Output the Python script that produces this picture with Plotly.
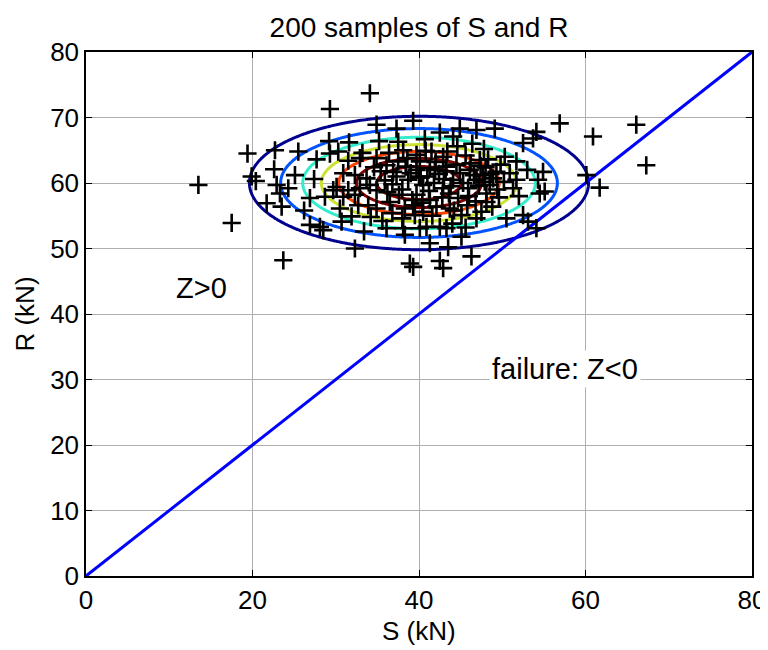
import numpy as np
import plotly.graph_objects as go

# ---- data ----
title_text = "200 samples of S and R"
x_label = "S (kN)"
y_label = "R (kN)"

S_mean, S_std = 40.0, 10.0
R_mean, R_std = 60.0, 5.0
contour_levels = [0.0004, 0.0008, 0.0012, 0.0016, 0.0020, 0.0024, 0.0028]

limit_S = [0, 80]
limit_R = [0, 80]

sample_S = [
    13.5, 17.5, 19.4, 19.9, 20.4, 22.7, 22.6, 22.9, 23.3, 21.7, 23.5, 23.7, 34.1, 29.3, 34.9, 37.3, 39.3, 29.2,
    25.5, 27.7, 29.3, 30.3, 31.5, 32.9, 34.9, 36.1, 37.5, 38.1, 37.5, 25.1, 30.9, 32.3, 36.9, 42.5, 44.9, 44.1,
    46.9, 49.1, 54.1, 53.7, 52.5, 40.7, 41.5, 39.7, 42.9, 40.1, 47.3, 50.3, 51.7, 39.7, 41.3, 43.3, 44.9, 46.1,
    47.7, 49.3, 50.9, 54.9, 56.9, 60.9, 66.1, 67.3, 60.1, 61.7, 55.1, 24.3, 26.9, 28.7, 29.7, 31.5, 30.9, 32.3,
    32.9, 34.1, 34.9, 33.7, 30.5, 31.9, 32.7, 33.9, 34.9, 36.5, 38.3, 26.9, 28.1, 28.5, 30.7, 36.1, 38.1, 38.3,
    32.3, 38.9, 39.3, 38.7, 37.3, 30.1, 51.7, 51.3, 54.3, 54.5, 50.5, 52.5, 53.1, 54.1, 46.9, 47.5, 45.1, 41.3,
    40.1, 40.9, 42.5, 43.3, 46.3, 42.5, 42.9, 39.5, 40.5, 42.1, 43.7, 44.7, 45.1, 48.1, 48.1, 48.5, 48.9, 45.9,
    42.9, 40.5, 39.7, 41.3, 39.3, 44.1, 46.9, 47.9,
    38.0, 39.0, 40.2, 41.0, 41.8, 42.4, 43.0, 43.8, 44.5, 45.3, 46.0, 46.6, 47.2, 48.0, 48.6, 49.4, 49.8, 36.8,
    35.9, 35.4, 36.4, 38.6, 40.8, 42.0, 43.4, 45.6, 46.4, 47.8, 39.2, 40.4, 41.6, 42.8, 43.6, 44.2, 45.8, 46.8,
    38.0, 36.8, 35.6, 34.2, 33.4, 44.0, 45.6, 48.8, 49.6, 50.2, 52.0, 53.0, 37.6, 41.2, 43.2, 40.0, 41.9, 47.4,
    48.3, 46.2, 38.4, 36.2, 34.6, 33.2, 31.6, 27.4, 26.2, 35.2, 44.6, 43.5,
]
sample_R = [
    59.7, 53.9, 64.5, 61.0, 60.3, 65.0, 62.1, 59.7, 58.4, 56.9, 56.4, 48.2, 73.7, 71.3, 68.9, 68.3, 69.5, 66.4,
    64.8, 63.6, 64.5, 64.8, 63.4, 63.8, 63.8, 62.7, 66.3, 65.0, 63.3, 61.2, 61.5, 61.2, 61.7, 67.7, 68.3, 67.1,
    68.1, 68.3, 67.8, 66.8, 66.1, 66.7, 64.8, 64.3, 64.0, 63.3, 63.5, 64.0, 63.3, 62.0, 62.3, 62.5, 61.5, 62.0,
    61.2, 61.7, 61.5, 61.7, 69.1, 67.1, 68.9, 62.7, 61.2, 59.3, 58.7, 59.2, 57.7, 57.9, 58.9, 58.9, 57.9, 58.2,
    59.2, 59.7, 58.9, 60.7, 56.1, 54.9, 56.6, 56.6, 56.1, 57.1, 56.1, 53.6, 53.3, 52.8, 54.1, 53.1, 53.1, 52.1,
    50.0, 47.7, 47.2, 60.5, 61.0, 59.4, 60.5, 59.2, 60.5, 58.4, 54.6, 55.1, 54.1, 53.1, 54.6, 55.6, 51.8, 50.8,
    53.1, 53.3, 53.3, 53.1, 48.8, 48.1, 47.0, 55.1, 55.6, 56.4, 56.1, 57.7, 55.1, 57.1, 58.4, 59.7, 60.7, 59.2,
    59.2, 59.7, 58.2, 57.4, 56.6, 60.5, 60.5, 60.2,
    59.0, 61.5, 60.8, 61.0, 60.0, 61.4, 60.6, 59.5, 62.8, 60.0, 58.0, 61.2, 59.6, 62.4, 61.4, 59.0, 62.8, 59.8,
    60.4, 61.8, 64.6, 63.8, 64.9, 63.2, 64.8, 64.2, 66.0, 65.2, 57.4, 57.0, 55.0, 57.8, 58.4, 55.8, 56.6, 57.2,
    54.6, 55.4, 54.2, 54.8, 52.6, 53.8, 53.2, 56.4, 57.8, 60.2, 58.0, 62.0, 58.2, 58.8, 61.8, 61.0, 62.0, 62.6,
    63.6, 63.0, 62.5, 58.6, 62.4, 64.6, 66.2, 60.6, 55.8, 66.4, 65.6, 50.2,
]

text_safe = "Z>0"
text_fail = "failure: Z<0"
text_safe_pos = (10.5, 44.0)
text_fail_pos = (48.4, 31.6)

# MATLAB jet colours for the 7 contour levels
jet_colors = ["rgb(0,0,143)", "rgb(0,48,255)", "rgb(0,223,255)", "rgb(128,255,128)",
              "rgb(255,207,0)", "rgb(255,32,0)", "rgb(128,0,0)"]

# ---- figure ----
grid_s = np.linspace(0, 80, 401)
grid_r = np.linspace(0, 80, 401)
GS, GR = np.meshgrid(grid_s, grid_r)
pdf = (1.0 / (2 * np.pi * S_std * R_std)) * np.exp(
    -0.5 * (((GS - S_mean) / S_std) ** 2 + ((GR - R_mean) / R_std) ** 2))

n = len(jet_colors)
cscale = [[i / (n - 1), c] for i, c in enumerate(jet_colors)]

FONT = "Liberation Sans, Arial, sans-serif"
FS_TICK = 26
FS_LABEL = 26
FS_TEXT = 29
FS_TITLE = 28
# the page adds an 8px body margin, so the figure fills the visible 760x642 area
W, H = 760, 642
L, R_, T, B = 78, 16, 44, 74
plot_h = H - T - B

fig = go.Figure()
fig.add_trace(go.Contour(
    x=grid_s, y=grid_r, z=pdf,
    contours=dict(start=contour_levels[0], end=contour_levels[-1],
                  size=contour_levels[1] - contour_levels[0], coloring="lines"),
    colorscale=cscale, zmin=contour_levels[0], zmax=contour_levels[-1],
    line=dict(width=3), showscale=False, hoverinfo="skip",
))
fig.add_trace(go.Scatter(
    x=limit_S, y=limit_R, mode="lines",
    line=dict(color="rgb(0,0,255)", width=3), hoverinfo="skip",
))
fig.add_trace(go.Scatter(
    x=sample_S, y=sample_R, mode="markers",
    marker=dict(symbol="cross-thin", size=13, line=dict(color="black", width=2.6)),
))

fig.add_annotation(x=text_safe_pos[0], y=text_safe_pos[1], text=text_safe, showarrow=False,
                   xanchor="left", yanchor="middle", font=dict(family=FONT, size=FS_TEXT, color="black"),
                   bgcolor="white", borderpad=2)
fig.add_annotation(x=text_fail_pos[0], y=text_fail_pos[1], text=text_fail, showarrow=False,
                   xanchor="left", yanchor="middle", font=dict(family=FONT, size=FS_TEXT, color="black"),
                   bgcolor="white", borderpad=2)
# x-axis label placed explicitly below tick labels
fig.add_annotation(x=0.5, xref="paper", y=-(623 - (H - B)) / plot_h, yref="paper",
                   text=x_label, showarrow=False, xanchor="center", yanchor="middle",
                   font=dict(family=FONT, size=FS_LABEL, color="black"), borderpad=0)

axis_common = dict(
    range=[0, 80], showgrid=True, gridcolor="rgb(175,175,175)", gridwidth=1,
    showline=True, linecolor="black", linewidth=1.5, mirror="ticks",
    ticks="inside", ticklen=6, tickcolor="black", zeroline=False,
    tickfont=dict(family=FONT, size=FS_TICK, color="black"),
)
fig.update_xaxes(**axis_common, dtick=20)
fig.update_yaxes(**axis_common, dtick=10,
                 title=dict(text=y_label, font=dict(family=FONT, size=FS_LABEL, color="black"), standoff=8))

fig.update_layout(
    width=W, height=H,
    margin=dict(l=L, r=R_, t=T, b=B, autoexpand=False),
    paper_bgcolor="white", plot_bgcolor="white",
    showlegend=False,
    title=dict(text=title_text, x=(L + W - R_) / 2 / W, xanchor="center",
               y=1 - 19 / H, yanchor="middle", yref="container",
               font=dict(family=FONT, size=FS_TITLE, color="black")),
)

fig.write_html("out.html")
